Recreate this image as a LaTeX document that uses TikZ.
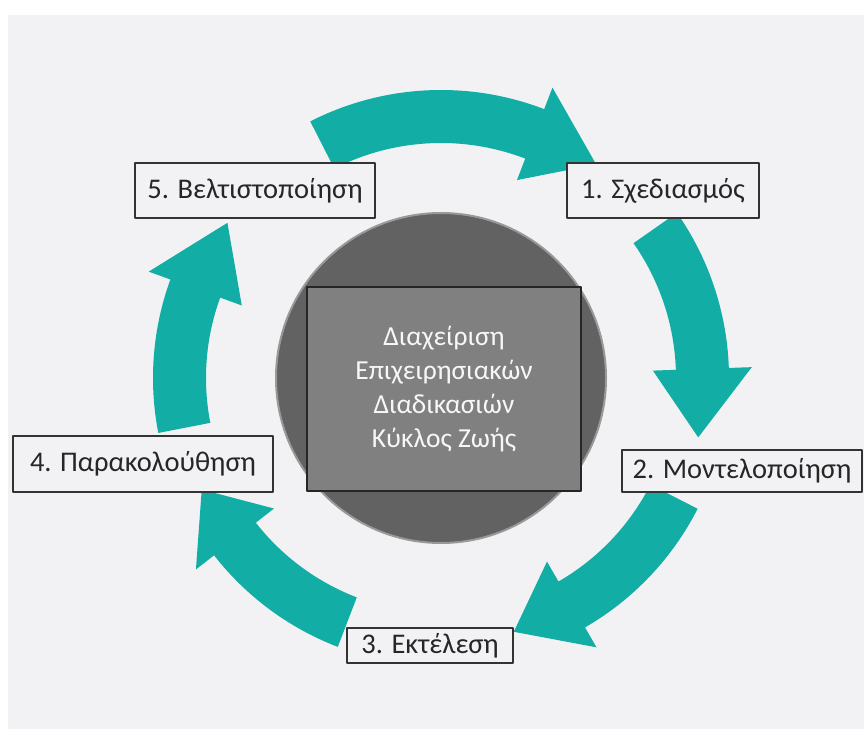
\documentclass[tikz,border=0pt]{standalone}
\usepackage{fontspec}
\setmainfont{Carlito}
\usetikzlibrary{positioning}
\definecolor{cycleteal}{RGB}{18,173,165}
\definecolor{paper}{RGB}{242,242,244}
\definecolor{disc}{RGB}{98,98,98}
\definecolor{core}{RGB}{128,128,128}
% curved block arrow round the disc: tail angle, head base angle, tip angle
\newcommand{\cyclearrow}[3]{%
  \fill[cycleteal] (#1:288) arc[start angle=#1, end angle=#2, radius=288pt]
    -- (#2:311) -- (#3:264) -- (#2:212) -- (#2:235)
    arc[start angle=#2, end angle=#1, radius=235pt] -- cycle;}
\tikzset{
  stagebox/.style={draw=black!80, fill=paper, line width=1.2pt, inner sep=0pt,
    font=\fontsize{28.5}{34}\selectfont, text=black!85},
  corebox/.style={draw=black!85, fill=core, line width=1.2pt, inner sep=0pt,
    minimum width=274pt, minimum height=204pt, align=center,
    font=\fontsize{27.5}{34}\selectfont, text=white!94!gray}
}
\begin{document}
\begin{tikzpicture}[x=1pt,y=1pt,line join=round]
	\useasboundingbox (0,0) rectangle (864,729);
	\fill[white] (0,0) rectangle (864,729);
	\fill[paper] (8,0) rectangle (864,714);
	\begin{scope}[shift={(441,351)}]
		\cyclearrow{117}{69}{54}
		\cyclearrow{35}{2}{-13}
		\cyclearrow{-27}{-60}{-74}
		\cyclearrow{-111}{-142}{-155}
		\cyclearrow{191}{160}{144}
	\end{scope}
	\filldraw[fill=disc, draw=black!40, line width=2pt] (441,351) circle[radius=165pt];
	\node[corebox] (core) at (444,340) {\raisebox{-4pt}{\parbox{274pt}{\centering Διαχείριση\\Επιχειρησιακών\\Διαδικασιών\\Κύκλος Ζωής}}};
	\node[stagebox, minimum width=192pt, minimum height=55pt] (plan) at (663,538.5) {1. Σχεδιασμός};
	\node[stagebox, minimum width=240pt, minimum height=42pt] (model) at (742,258) {2. Μοντελοποίηση};
	\node[stagebox, minimum width=166pt, minimum height=35pt] (run) at (430,83.5) {3. Εκτέλεση};
	\node[stagebox, minimum width=260pt, minimum height=56pt] (watch) at (143,265) {4. Παρακολούθηση};
	\node[stagebox, minimum width=240pt, minimum height=55pt] (tune) at (255,538.5) {5. Βελτιστοποίηση};
\end{tikzpicture}
\end{document}
